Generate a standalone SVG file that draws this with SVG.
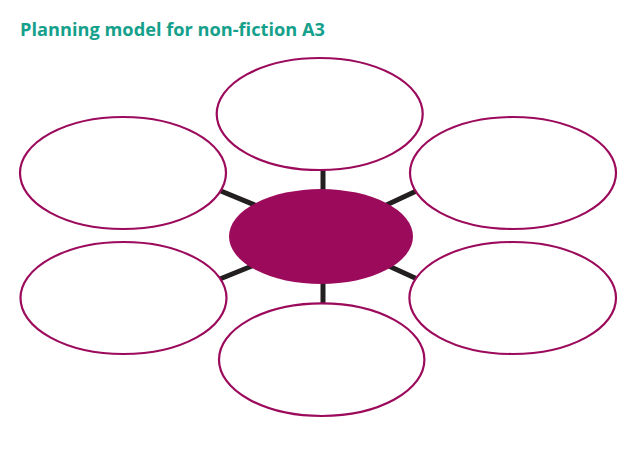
<svg xmlns="http://www.w3.org/2000/svg" width="636" height="450" viewBox="0 0 636 450">
  <style>
    .title { font-family: "Open Sans", "Liberation Sans", sans-serif; font-weight: bold; font-size: 17px; fill: #14a08b; }
    .conn { stroke: #231f20; stroke-width: 5; fill: none; }
    .leaf { fill: #ffffff; stroke: #9c0a5c; stroke-width: 2.2; }
    .hub { fill: #9c0a5c; stroke: none; }
  </style>
  <rect width="636" height="450" fill="#ffffff"/>
  <text class="title" x="20" y="36" textLength="305" lengthAdjust="spacingAndGlyphs">Planning model for non-fiction A3</text>
  <g id="connectors">
    <line class="conn" x1="323" y1="160" x2="323" y2="200"/>
    <line class="conn" x1="323" y1="270" x2="323" y2="312"/>
    <line class="conn" x1="210" y1="186.5" x2="262" y2="208"/>
    <line class="conn" x1="380" y1="208" x2="426" y2="186.5"/>
    <line class="conn" x1="210" y1="283" x2="262" y2="262"/>
    <line class="conn" x1="380" y1="262" x2="426" y2="283"/>
  </g>
  <g id="node-top"><ellipse class="leaf" cx="319.7" cy="114" rx="103" ry="56"/></g>
  <g id="node-top-left"><ellipse class="leaf" cx="123" cy="173" rx="103" ry="56"/></g>
  <g id="node-top-right"><ellipse class="leaf" cx="513" cy="173" rx="103" ry="56"/></g>
  <g id="node-bottom-left"><ellipse class="leaf" cx="123.5" cy="298" rx="103" ry="56"/></g>
  <g id="node-bottom-right"><ellipse class="leaf" cx="512.7" cy="298" rx="103.3" ry="56"/></g>
  <g id="node-bottom"><ellipse class="leaf" cx="321.7" cy="359.7" rx="102.7" ry="56.3"/></g>
  <g id="node-center"><ellipse class="hub" cx="321" cy="236.5" rx="92" ry="47.5"/></g>
</svg>
